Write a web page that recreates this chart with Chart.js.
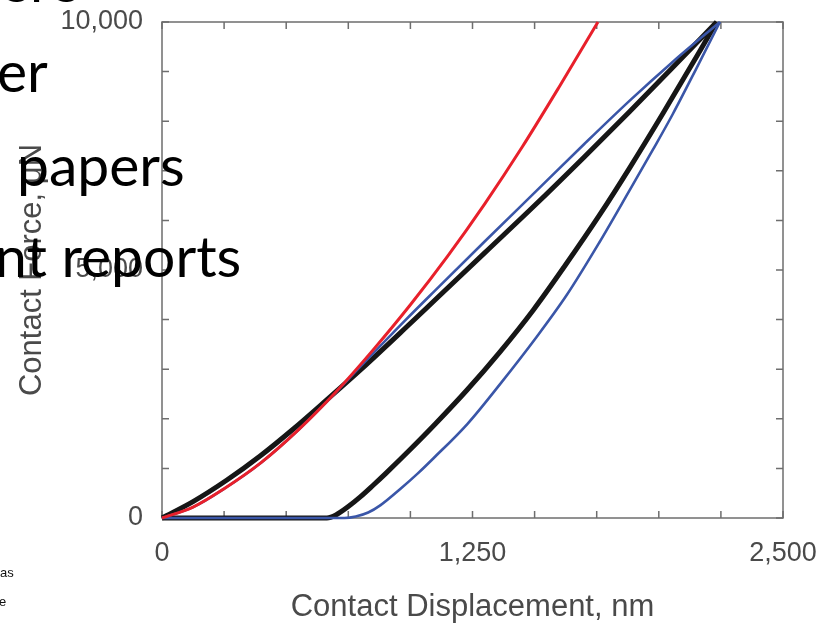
<!DOCTYPE html>
<html>
<head>
<meta charset="utf-8">
<script src="https://cdn.jsdelivr.net/npm/chart.js@4"></script>
<style>
html, body { margin: 0; padding: 0; background: #fff; }
#wrap { position: relative; width: 819px; height: 623px; overflow: hidden; }
#chart { position: absolute; left: 0; top: 0; }
.slide { position: absolute; font-family: Lato, 'Open Sans', sans-serif; font-size: 57px; line-height: 1; color: #000; white-space: pre; }
.note { position: absolute; font-family: 'Liberation Sans', Arial, sans-serif; font-size: 13px; line-height: 1; color: #111; white-space: pre; }
</style>
</head>
<body>
<div id="wrap">
  <canvas id="chart" width="819" height="623"></canvas>
  <div class="slide" style="left:0px;top:-48px">ere</div>
  <div class="slide" style="left:-3px;top:42px">er</div>
  <div class="slide" style="left:17px;top:136px">papers</div>
  <div class="slide" style="left:-5px;top:227px">nt reports</div>
  <div class="note" style="left:0px;top:566px">as</div>
  <div class="note" style="left:-1px;top:595px">e</div>
</div>
<script>
// contact displacement (nm) / contact force (uN)
const redH = [0, 125, 250, 400, 550, 700, 850, 1000, 1150, 1300, 1450, 1600, 1755];
const redF = [0, 220, 590, 1120, 1780, 2540, 3390, 4300, 5280, 6340, 7480, 8700, 10000];

const blueLoadH = [0, 125, 250, 400, 550, 663, 800, 980, 1100, 1300, 1500, 1700, 1884, 2050, 2246];
const blueLoadF = [0, 220, 590, 1120, 1780, 2340, 3060, 3990, 4590, 5580, 6560, 7540, 8420, 9170, 10000];
const blueUnloadH = [0, 735, 780, 830, 880, 958, 1030, 1092, 1230, 1361, 1508, 1630, 1760, 1884, 1978, 2057, 2150, 2246];
const blueUnloadF = [0, 0, 30, 110, 260, 580, 900, 1200, 1900, 2700, 3650, 4500, 5550, 6620, 7440, 8150, 9050, 10000];

const blackLoadH = [0, 125, 260, 395, 530, 663, 800, 980, 1100, 1300, 1500, 1700, 1884, 2050, 2233];
const blackLoadF = [0, 330, 760, 1250, 1800, 2380, 2990, 3830, 4400, 5350, 6300, 7280, 8200, 9050, 10000];
const blackUnloadH = [0, 664, 700, 750, 797, 850, 900, 998, 1100, 1227, 1360, 1495, 1620, 1763, 1884, 2017, 2166, 2233];
const blackUnloadF = [0, 0, 60, 230, 420, 660, 895, 1375, 1895, 2575, 3345, 4195, 5070, 6120, 7070, 8160, 9420, 10000];

const xTickLabels = [0, 1250, 2500];
const yTickLabels = [0, 5000, 10000];

function pts(h, f) {
  return h.map((v, i) => ({ x: v, y: f[i] }));
}

function line(data, color, width) {
  return {
    data: data,
    showLine: true,
    borderColor: color,
    borderWidth: width,
    pointRadius: 0,
    cubicInterpolationMode: 'monotone',
    clip: 8
  };
}

// box round the plot with small ticks pointing inward
const frame = {
  id: 'frame',
  beforeDatasetsDraw(chart) {
    const ctx = chart.ctx;
    const a = chart.chartArea;
    const x = chart.scales.x;
    const y = chart.scales.y;
    ctx.save();
    ctx.strokeStyle = '#6e6e6e';
    ctx.lineWidth = 1.5;
    ctx.strokeRect(a.left, a.top, a.right - a.left, a.bottom - a.top);
    ctx.beginPath();
    x.ticks.forEach(t => {
      const px = x.getPixelForValue(t.value);
      ctx.moveTo(px, a.bottom); ctx.lineTo(px, a.bottom - 7);
      ctx.moveTo(px, a.top); ctx.lineTo(px, a.top + 7);
    });
    y.ticks.forEach(t => {
      const py = y.getPixelForValue(t.value);
      ctx.moveTo(a.left, py); ctx.lineTo(a.left + 7, py);
      ctx.moveTo(a.right, py); ctx.lineTo(a.right - 7, py);
    });
    ctx.stroke();
    ctx.restore();
  }
};

const fmt = v => v.toLocaleString('en-US');
const labelFont = { family: "'Liberation Sans', Arial, sans-serif", size: 27 };
const titleFont = { family: "'Liberation Sans', Arial, sans-serif", size: 31, lineHeight: 1 };

new Chart(document.getElementById('chart'), {
  type: 'scatter',
  data: {
    datasets: [
      line(pts(redH, redF), '#e8202b', 3),
      line(pts(blueLoadH, blueLoadF), '#3a56a8', 2.6),
      line(pts(blueUnloadH, blueUnloadF), '#3a56a8', 2.6),
      line(pts(blackLoadH, blackLoadF), '#161616', 5),
      line(pts(blackUnloadH, blackUnloadF), '#161616', 5)
    ]
  },
  options: {
    responsive: false,
    animation: false,
    layout: { padding: { left: 0, top: 22, right: 36, bottom: 0 } },
    plugins: { legend: { display: false }, tooltip: { enabled: false } },
    scales: {
      x: {
        type: 'linear',
        min: 0, max: 2500,
        afterFit: s => { s.height = 105; s.paddingLeft = 0; s.paddingRight = 0; },
        border: { display: false },
        grid: { display: false, drawTicks: false },
        ticks: {
          stepSize: 250,
          padding: 19,
          maxRotation: 0,
          autoSkip: false,
          color: '#4a4a4a',
          font: labelFont,
          callback: v => xTickLabels.includes(v) ? fmt(v) : ''
        },
        title: {
          display: true,
          text: 'Contact Displacement, nm',
          color: '#4a4a4a',
          font: titleFont,
          padding: { top: 0, bottom: 0 }
        }
      },
      y: {
        type: 'linear',
        min: 0, max: 10000,
        afterFit: s => { s.width = 162; s.paddingTop = 0; s.paddingBottom = 0; },
        border: { display: false },
        grid: { display: false, drawTicks: false },
        ticks: {
          stepSize: 1000,
          padding: 19,
          autoSkip: false,
          color: '#4a4a4a',
          font: labelFont,
          callback: v => yTickLabels.includes(v) ? fmt(v) : ''
        },
        title: {
          display: true,
          text: 'Contact Force, \u03bcN',
          color: '#4a4a4a',
          font: titleFont,
          padding: { top: 17, bottom: 0 }
        }
      }
    }
  },
  plugins: [frame]
});
</script>
</body>
</html>
